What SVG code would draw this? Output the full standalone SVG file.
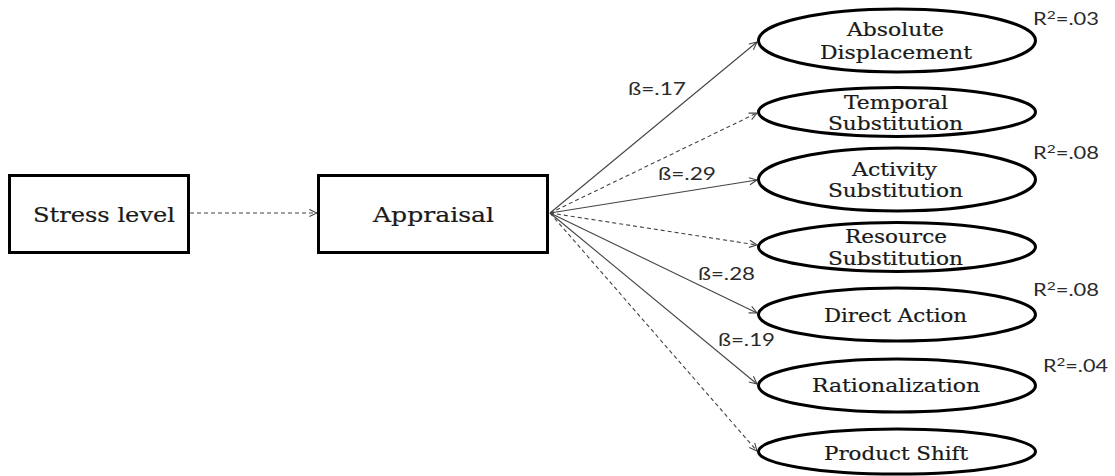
<svg xmlns="http://www.w3.org/2000/svg" width="1115" height="476" viewBox="0 0 1115 476">
  <style>
    .box { fill: #ffffff; stroke: #000000; stroke-width: 3; }
    .oval { fill: #ffffff; stroke: #000000; stroke-width: 3; }
    .label { font-family: "DejaVu Serif", "Liberation Serif", serif; fill: #1a1a1a; stroke: #1a1a1a; stroke-width: 0.2; }
    .big { font-size: 21px; }
    .small { font-size: 18px; }
    .stat { font-family: "Lato", "Open Sans", "Liberation Sans", sans-serif; font-size: 17px; fill: #2a2a2a; }
    .sup { font-size: 12px; }
    .edge { fill: none; stroke: #444444; stroke-width: 1.1; marker-end: url(#open); }
    .dash { stroke-dasharray: 4 3; }
  </style>
  <defs>
    <marker id="open" viewBox="0 0 10 10" refX="9.5" refY="5" markerWidth="9" markerHeight="9" markerUnits="userSpaceOnUse" orient="auto">
      <path d="M1,1 L9.5,5 L1,9" fill="none" stroke="#444444" stroke-width="1.2"/>
    </marker>
  </defs>
  <rect width="1115" height="476" fill="#ffffff"/>

  <!-- connectors -->
  <g id="connectors">
    <line class="edge dash" x1="190" y1="213" x2="317" y2="213"/>
    <line class="edge" x1="550" y1="213" x2="757" y2="42"/>
    <line class="edge dash" x1="550" y1="213" x2="757" y2="113"/>
    <line class="edge" x1="550" y1="213" x2="757" y2="180"/>
    <line class="edge dash" x1="550" y1="213" x2="757" y2="245"/>
    <line class="edge" x1="550" y1="213" x2="757" y2="313"/>
    <line class="edge" x1="550" y1="213" x2="757" y2="384"/>
    <line class="edge dash" x1="550" y1="213" x2="757" y2="451"/>
    <text class="stat" x="628" y="95" textLength="58" lengthAdjust="spacingAndGlyphs">ß=.17</text>
    <text class="stat" x="658" y="180" textLength="58" lengthAdjust="spacingAndGlyphs">ß=.29</text>
    <text class="stat" x="698" y="280" textLength="57" lengthAdjust="spacingAndGlyphs">ß=.28</text>
    <text class="stat" x="718" y="346" textLength="57" lengthAdjust="spacingAndGlyphs">ß=.19</text>
  </g>

  <g id="stress-level">
    <rect class="box" x="9.5" y="175.5" width="179" height="77"/>
    <text class="label big" x="33" y="222" textLength="142" lengthAdjust="spacingAndGlyphs">Stress level</text>
  </g>

  <g id="appraisal">
    <rect class="box" x="318.5" y="175.5" width="229" height="77"/>
    <text class="label big" x="373" y="222" textLength="121" lengthAdjust="spacingAndGlyphs">Appraisal</text>
  </g>

  <g id="absolute-displacement">
    <ellipse class="oval" cx="897" cy="40.5" rx="138.5" ry="31.5"/>
    <text class="label small" x="847" y="36" textLength="97" lengthAdjust="spacingAndGlyphs">Absolute</text>
    <text class="label small" x="820" y="59" textLength="152" lengthAdjust="spacingAndGlyphs">Displacement</text>
    <text class="stat" x="1033" y="25" textLength="66" lengthAdjust="spacingAndGlyphs">R<tspan class="sup" dy="-6">2</tspan><tspan dy="6">=.03</tspan></text>
  </g>

  <g id="temporal-substitution">
    <ellipse class="oval" cx="897" cy="112" rx="138.5" ry="24.5"/>
    <text class="label small" x="844" y="109" textLength="104" lengthAdjust="spacingAndGlyphs">Temporal</text>
    <text class="label small" x="828" y="130" textLength="135" lengthAdjust="spacingAndGlyphs">Substitution</text>
  </g>

  <g id="activity-substitution">
    <ellipse class="oval" cx="897" cy="179.5" rx="138.5" ry="31.5"/>
    <text class="label small" x="852" y="176" textLength="85" lengthAdjust="spacingAndGlyphs">Activity</text>
    <text class="label small" x="828" y="197" textLength="135" lengthAdjust="spacingAndGlyphs">Substitution</text>
    <text class="stat" x="1033" y="159" textLength="66" lengthAdjust="spacingAndGlyphs">R<tspan class="sup" dy="-6">2</tspan><tspan dy="6">=.08</tspan></text>
  </g>

  <g id="resource-substitution">
    <ellipse class="oval" cx="897" cy="247" rx="138.5" ry="24.5"/>
    <text class="label small" x="845" y="243" textLength="102" lengthAdjust="spacingAndGlyphs">Resource</text>
    <text class="label small" x="828" y="265" textLength="135" lengthAdjust="spacingAndGlyphs">Substitution</text>
  </g>

  <g id="direct-action">
    <ellipse class="oval" cx="897" cy="314.5" rx="138.5" ry="26.5"/>
    <text class="label small" x="824" y="322" textLength="143" lengthAdjust="spacingAndGlyphs">Direct Action</text>
    <text class="stat" x="1033" y="296" textLength="66" lengthAdjust="spacingAndGlyphs">R<tspan class="sup" dy="-6">2</tspan><tspan dy="6">=.08</tspan></text>
  </g>

  <g id="rationalization">
    <ellipse class="oval" cx="897" cy="385.5" rx="138.5" ry="26.5"/>
    <text class="label small" x="812" y="392" textLength="168" lengthAdjust="spacingAndGlyphs">Rationalization</text>
    <text class="stat" x="1043" y="372" textLength="65" lengthAdjust="spacingAndGlyphs">R<tspan class="sup" dy="-6">2</tspan><tspan dy="6">=.04</tspan></text>
  </g>

  <g id="product-shift">
    <ellipse class="oval" cx="897" cy="451.5" rx="138.5" ry="22.5"/>
    <text class="label small" x="824" y="460" textLength="144" lengthAdjust="spacingAndGlyphs">Product Shift</text>
  </g>
</svg>
